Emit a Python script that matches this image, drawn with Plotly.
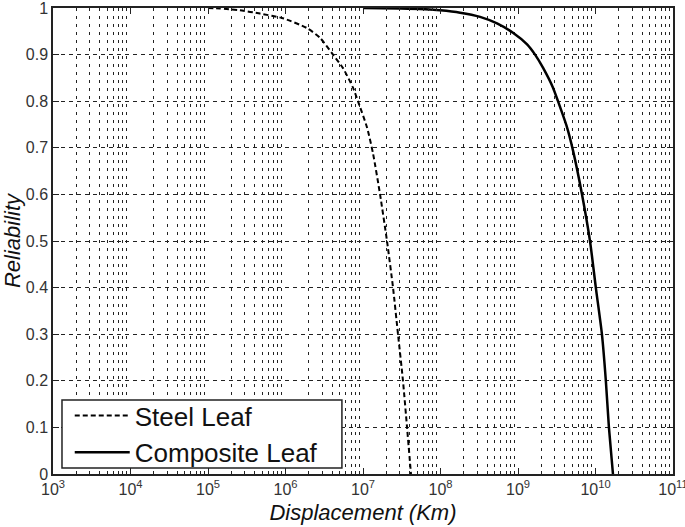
import plotly.graph_objects as go

# Data
steel_x = [1.0e5, 1.43e5, 2.59e5, 4.69e5, 9.29e5, 1.89e6, 2.79e6, 4.10e6, 5.52e6, 7.43e6,
           8.61e6, 1.13e7, 1.35e7, 1.66e7, 2.04e7, 2.44e7, 2.83e7, 3.28e7, 3.70e7, 4.16e7]
steel_r = [1.0, 0.999, 0.995, 0.988, 0.978, 0.957, 0.936, 0.90, 0.871, 0.829,
           0.80, 0.743, 0.687, 0.60, 0.50, 0.40, 0.30, 0.20, 0.10, 0.0]

comp_x = [1.0e7, 3.0e7, 5.43e7, 9.86e7, 1.79e8, 3.24e8, 5.36e8, 8.61e8, 1.31e9, 1.66e9,
          2.10e9, 2.83e9, 3.28e9, 4.29e9, 5.13e9, 6.70e9, 8.49e9, 1.01e10, 1.21e10,
          1.36e10, 1.49e10, 1.68e10]
comp_r = [1.0, 0.999, 0.998, 0.995, 0.99, 0.981, 0.967, 0.947, 0.922, 0.90,
          0.872, 0.829, 0.80, 0.744, 0.694, 0.60, 0.50, 0.40, 0.30,
          0.20, 0.10, 0.0]

x_exponents = [3, 4, 5, 6, 7, 8, 9, 10, 11]
y_ticks = [0, 0.1, 0.2, 0.3, 0.4, 0.5, 0.6, 0.7, 0.8, 0.9, 1]
y_ticklabels = ["0", "0.1", "0.2", "0.3", "0.4", "0.5", "0.6", "0.7", "0.8", "0.9", "1"]

x_tickvals = [10 ** e for e in x_exponents]
x_ticktext = ["10<sup>%d</sup>" % e for e in x_exponents]
minor_vals = [m * 10 ** e for e in x_exponents[:-1] for m in range(2, 10)]

fig = go.Figure()
fig.add_trace(go.Scatter(x=steel_x, y=steel_r, mode="lines", name="Steel Leaf",
                         line=dict(color="black", width=2, dash="5px,3px",
                                   shape="spline", smoothing=0.6)))
fig.add_trace(go.Scatter(x=comp_x, y=comp_r, mode="lines", name="Composite Leaf",
                         line=dict(color="black", width=2.5, shape="spline", smoothing=0.6)))

# legend frame (drawn as a white box with a dark border)
fig.add_shape(type="rect", xref="paper", yref="paper",
              x0=0.0145, x1=0.466, y0=0.013, y1=0.159,
              fillcolor="white", line=dict(color="#222", width=1.5), layer="above")

font_fam = "Liberation Sans, Arial, sans-serif"
fig.update_layout(
    width=685, height=527,
    margin=dict(l=53, r=12, t=8, b=53, autoexpand=False),
    paper_bgcolor="white", plot_bgcolor="white",
    font=dict(family=font_fam, color="#111", size=15),
    showlegend=True,
    legend=dict(x=0.027, y=0.176, xanchor="left", yanchor="top",
                bgcolor="rgba(0,0,0,0)", borderwidth=0,
                font=dict(size=26, family=font_fam, color="#111"),
                itemwidth=55, tracegroupgap=0),
    xaxis=dict(
        type="log", range=[3, 11], automargin=False,
        tickmode="array", tickvals=x_tickvals, ticktext=x_ticktext,
        ticklabeloverflow="allow",
        showgrid=False, ticks="inside", ticklen=6, tickcolor="#222",
        showline=True, linecolor="#222", linewidth=1.5, mirror="ticks",
        zeroline=False,
        minor=dict(tickmode="array", tickvals=minor_vals, ticks="inside", ticklen=3,
                   tickcolor="#222", showgrid=True, gridcolor="#222", gridwidth=1,
                   griddash="3px,5px"),
        title=dict(text="<i>Displacement (Km)</i>", font=dict(size=22, family=font_fam, color="#111"),
                   standoff=8),
        tickfont=dict(size=16, family=font_fam, color="#333"),
    ),
    yaxis=dict(
        range=[0, 1], automargin=False,
        tickmode="array", tickvals=y_ticks, ticktext=y_ticklabels,
        ticklabeloverflow="allow",
        showgrid=True, gridcolor="#222", gridwidth=1, griddash="4px,4px",
        ticks="inside", ticklen=6, tickcolor="#222",
        showline=True, linecolor="#222", linewidth=1.5, mirror="ticks",
        zeroline=False,
        title=dict(text="<i>Reliability</i>", font=dict(size=22, family=font_fam, color="#111"),
                   standoff=6),
        tickfont=dict(size=16, family=font_fam, color="#333"),
    ),
)

fig.write_html("out.html", config={"displayModeBar": False},
               post_script="document.body.style.margin='0';document.body.style.padding='0';")
